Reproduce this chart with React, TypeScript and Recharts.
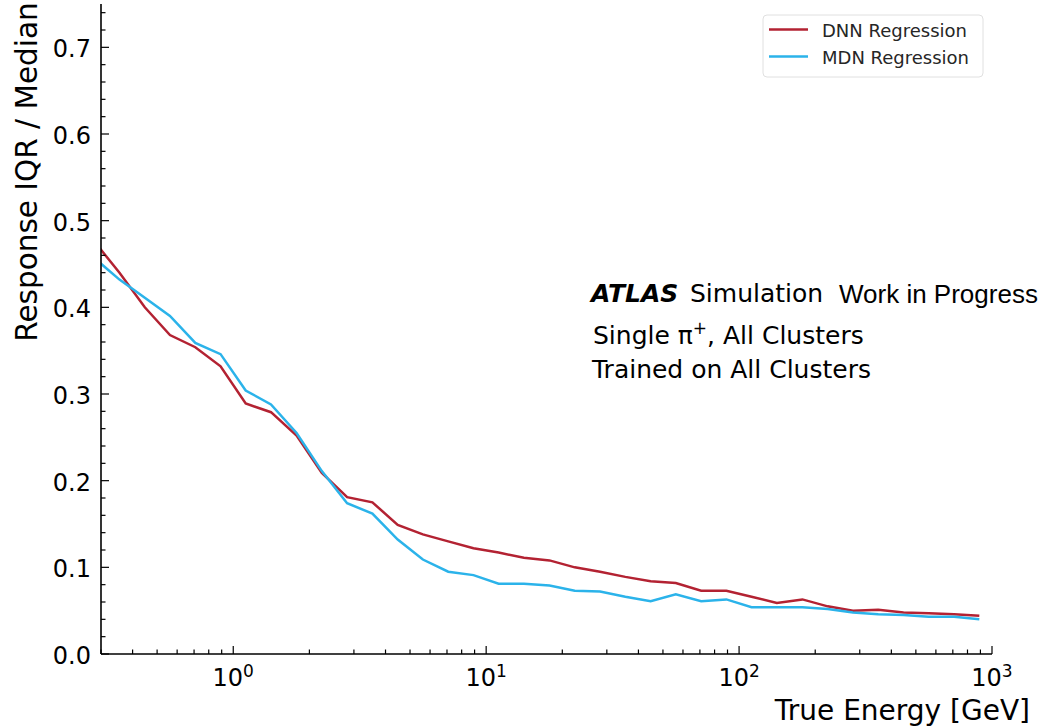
import React from "react";
import { LineChart, Line, XAxis, YAxis } from "recharts";

// bin centres in GeV (log spaced, first one sits just left of the frame)
const energy = [
  0.282, 0.355, 0.447, 0.562, 0.708, 0.891, 1.12, 1.41, 1.78, 2.24, 2.82, 3.55,
  4.47, 5.62, 7.08, 8.91, 11.2, 14.1, 17.8, 22.4, 28.2, 35.5, 44.7, 56.2, 70.8,
  89.1, 112, 141, 178, 224, 282, 355, 447, 562, 708, 891,
];

const dnnIqr = [
  0.476, 0.44, 0.4, 0.368, 0.354, 0.332, 0.289, 0.279, 0.252, 0.209, 0.181, 0.175,
  0.149, 0.138, 0.13, 0.122, 0.117, 0.111, 0.108, 0.1, 0.095, 0.089, 0.084, 0.082,
  0.073, 0.073, 0.066, 0.059, 0.063, 0.055, 0.05, 0.051, 0.048, 0.047, 0.046, 0.044,
];

const mdnIqr = [
  0.457, 0.432, 0.411, 0.39, 0.359, 0.346, 0.304, 0.288, 0.255, 0.211, 0.174, 0.162,
  0.132, 0.109, 0.095, 0.091, 0.081, 0.081, 0.079, 0.073, 0.072, 0.066, 0.061, 0.069,
  0.061, 0.063, 0.054, 0.054, 0.054, 0.052, 0.048, 0.046, 0.045, 0.043, 0.043, 0.04,
];

const xTicks = [
  0.3, 0.4, 0.5, 0.6, 0.7, 0.8, 0.9, 1, 2, 3, 4, 5, 6, 7, 8, 9, 10, 20, 30, 40, 50,
  60, 70, 80, 90, 100, 200, 300, 400, 500, 600, 700, 800, 900, 1000,
];
const xMajor = [1, 10, 100, 1000];
const xExponents = ["0", "1", "2", "3"];

const yMajor = [0, 0.1, 0.2, 0.3, 0.4, 0.5, 0.6, 0.7];
const yTickLabels = ["0.0", "0.1", "0.2", "0.3", "0.4", "0.5", "0.6", "0.7"];
const yTicks = Array.from({ length: 38 }, (_, i) => +(i * 0.02).toFixed(2));

const data = energy.map((e, i) => ({ e, dnn: dnnIqr[i], mdn: mdnIqr[i] }));

const DNN_COLOR = "#b32232";
const MDN_COLOR = "#2bb3ea";
const FONT = "DejaVu Sans";
const frame = { stroke: "#000", strokeWidth: 1.6 };

const isMajorY = (v: number) => yMajor.some((m) => Math.abs(m - v) < 1e-9);

function BottomTick(props: any) {
  const { x, y, payload } = props;
  const i = xMajor.indexOf(payload.value);
  return (
    <g>
      <line x1={x} x2={x} y1={y} y2={y - (i >= 0 ? 8 : 4.5)} stroke="#000" strokeWidth={1.2} />
      {i >= 0 && (
        <text x={x} y={y + 32} textAnchor="middle" fontSize={24} fontFamily={FONT} fill="#000">
          10
          <tspan dy={-9} fontSize={17}>
            {xExponents[i]}
          </tspan>
        </text>
      )}
    </g>
  );
}

function TopTick(props: any) {
  const { x, y, payload } = props;
  const major = xMajor.indexOf(payload.value) >= 0;
  return <line x1={x} x2={x} y1={y} y2={y + (major ? 8 : 4.5)} stroke="#000" strokeWidth={1.2} />;
}

function LeftTick(props: any) {
  const { x, y, payload } = props;
  const v = payload.value;
  const major = isMajorY(v);
  const i = yMajor.findIndex((m) => Math.abs(m - v) < 1e-9);
  return (
    <g>
      <line x1={x} x2={x + (major ? 8 : 4.5)} y1={y} y2={y} stroke="#000" strokeWidth={1.2} />
      {major && (
        <text x={x - 10} y={y + 10} textAnchor="end" fontSize={24} fontFamily={FONT} fill="#000">
          {yTickLabels[i]}
        </text>
      )}
    </g>
  );
}

function RightTick(props: any) {
  const { x, y, payload } = props;
  const major = isMajorY(payload.value);
  return <line x1={x} x2={x - (major ? 8 : 4.5)} y1={y} y2={y} stroke="#000" strokeWidth={1.2} />;
}

export default function App() {
  return (
    <div style={{ position: "absolute", left: 0, top: 0, width: 1043, height: 727, background: "#fff" }}>
      <LineChart width={1043} height={727} data={data} margin={{ top: 4, right: 51, bottom: 0, left: 0 }}>
        <XAxis
          dataKey="e"
          type="number"
          scale="log"
          domain={[0.3, 1000]}
          allowDataOverflow
          ticks={xTicks}
          interval={0}
          height={73}
          tickSize={0}
          tickMargin={0}
          tickLine={false}
          axisLine={frame}
          tick={(p: any) => <BottomTick {...p} />}
        />
        <XAxis
          xAxisId="top"
          orientation="top"
          dataKey="e"
          type="number"
          scale="log"
          domain={[0.3, 1000]}
          allowDataOverflow
          ticks={xTicks}
          interval={0}
          height={0}
          tickSize={0}
          tickMargin={0}
          tickLine={false}
          axisLine={frame}
          tick={(p: any) => <TopTick {...p} />}
        />
        <YAxis
          type="number"
          domain={[0, 0.75]}
          allowDataOverflow
          ticks={yTicks}
          interval={0}
          width={101}
          tickSize={0}
          tickMargin={0}
          tickLine={false}
          axisLine={frame}
          tick={(p: any) => <LeftTick {...p} />}
        />
        <YAxis
          yAxisId="right"
          orientation="right"
          type="number"
          domain={[0, 0.75]}
          allowDataOverflow
          ticks={yTicks}
          interval={0}
          width={0}
          tickSize={0}
          tickMargin={0}
          tickLine={false}
          axisLine={frame}
          tick={(p: any) => <RightTick {...p} />}
        />
        <Line
          type="linear"
          dataKey="dnn"
          name="DNN Regression"
          stroke={DNN_COLOR}
          strokeWidth={2.5}
          dot={false}
          isAnimationActive={false}
        />
        <Line
          type="linear"
          dataKey="mdn"
          name="MDN Regression"
          stroke={MDN_COLOR}
          strokeWidth={2.5}
          dot={false}
          isAnimationActive={false}
        />
      </LineChart>

      <svg
        width={1043}
        height={727}
        style={{ position: "absolute", left: 0, top: 0, pointerEvents: "none" }}
      >
        {/* axis titles */}
        <text
          transform="translate(37,172) rotate(-90)"
          textAnchor="middle"
          fontSize={29.5}
          fontFamily={FONT}
          fill="#000"
        >
          Response IQR / Median
        </text>
        <text x={1030} y={720} textAnchor="end" fontSize={28} fontFamily={FONT} fill="#000">
          True Energy [GeV]
        </text>

        {/* legend */}
        <rect x={763} y={15} width={220} height={62} rx={4} fill="#fff" fillOpacity={0.8} stroke="#e0e0e0" />
        <line x1={769} x2={808} y1={29.5} y2={29.5} stroke={DNN_COLOR} strokeWidth={2.5} />
        <line x1={769} x2={808} y1={56.5} y2={56.5} stroke={MDN_COLOR} strokeWidth={2.5} />
        <text x={822} y={36.5} fontSize={18} fontFamily={FONT} fill="#262626">
          DNN Regression
        </text>
        <text x={822} y={63.5} fontSize={18} fontFamily={FONT} fill="#262626">
          MDN Regression
        </text>

        {/* ATLAS label block */}
        <text x={591} y={302} fontSize={25} fontFamily={FONT} fontWeight="bold" fontStyle="italic" fill="#000">
          ATLAS
        </text>
        <text x={690} y={302} fontSize={25} fontFamily={FONT} fill="#000">
          Simulation
        </text>
        <text x={839} y={303} fontSize={26} fontFamily="Liberation Sans" fill="#000">
          Work in Progress
        </text>
        <text x={593} y={344} fontSize={25} fontFamily={FONT} fill="#000">
          Single π
          <tspan dy={-10} fontSize={17}>
            +
          </tspan>
          <tspan dy={10}>, All Clusters</tspan>
        </text>
        <text x={592} y={378} fontSize={25} fontFamily={FONT} fill="#000">
          Trained on All Clusters
        </text>
      </svg>
    </div>
  );
}
